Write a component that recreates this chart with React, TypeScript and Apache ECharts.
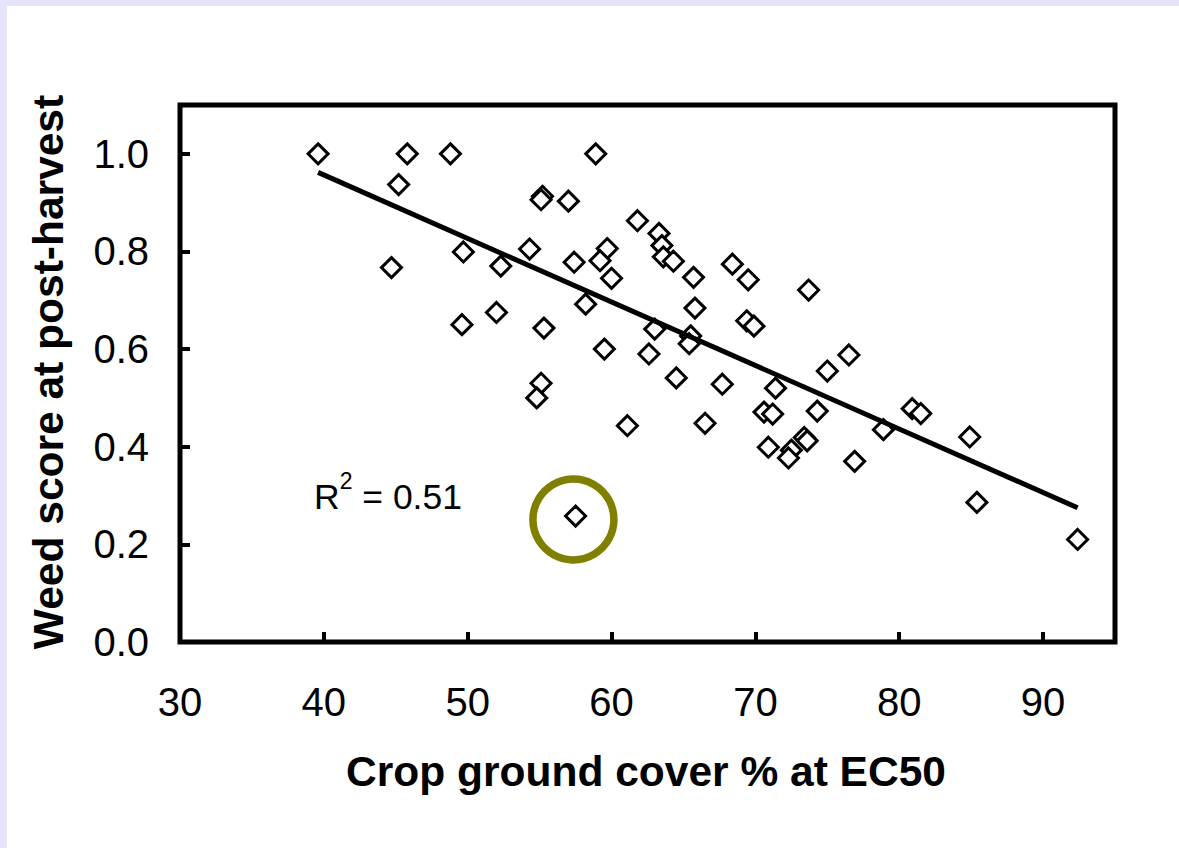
import React, { useEffect, useRef } from "react";
import * as echarts from "echarts";

// Crop ground cover % at EC50 (x) vs weed score at post-harvest (y)
const coverX: number[] = [
  39.6, 45.8, 48.8, 58.9, 45.2, 55.2, 55.1, 57.0, 61.8, 63.3,
  63.5, 63.6, 64.3, 65.7, 68.4, 69.5, 73.7, 44.7, 49.7, 52.3,
  54.3, 57.4, 59.7, 59.2, 60.0, 58.2, 52.0, 49.6, 55.3, 59.5,
  55.1, 54.8, 57.5, 65.8, 69.4, 69.9, 63.0, 65.5, 65.4, 62.6,
  64.5, 67.7, 71.4, 75.0, 76.5, 74.3, 70.6, 71.2, 61.1, 66.5,
  80.9, 81.5, 78.9, 84.9, 70.9, 73.4, 73.6, 72.5, 72.3, 76.9,
  85.4, 92.4,
];
const weedY: number[] = [
  1.0, 1.0, 1.0, 1.0, 0.937, 0.913, 0.906, 0.903, 0.863, 0.837,
  0.812, 0.789, 0.78, 0.747, 0.774, 0.742, 0.721, 0.767, 0.799, 0.77,
  0.805, 0.778, 0.806, 0.781, 0.745, 0.692, 0.675, 0.65, 0.643, 0.6,
  0.53, 0.5, 0.258, 0.684, 0.658, 0.647, 0.641, 0.627, 0.611, 0.59,
  0.541, 0.528, 0.52, 0.555, 0.588, 0.473, 0.471, 0.467, 0.443, 0.448,
  0.478, 0.468, 0.435, 0.42, 0.399, 0.419, 0.412, 0.393, 0.377, 0.37,
  0.286, 0.21,
];

// Linear trend line end points
const trendX: number[] = [39.6, 92.4];
const trendY: number[] = [0.962, 0.275];

// Highlighted (circled) point
const circledX: number[] = [57.35];
const circledY: number[] = [0.251];

const xTicks: number[] = [30, 40, 50, 60, 70, 80, 90];
const yTicks: number[] = [0, 0.2, 0.4, 0.6, 0.8, 1.0];

const xTitle = "Crop ground cover % at EC50";
const yTitle = "Weed score at post-harvest";
const rSquared = "0.51";

const FONT = "'Liberation Sans', Arial, Helvetica, sans-serif";

export default function App() {
  const ref = useRef<HTMLDivElement>(null);

  useEffect(() => {
    if (!ref.current) return;
    const chart = echarts.init(ref.current, undefined, { renderer: "svg" });

    const points = coverX.map((x, i) => [x, weedY[i]]);
    const trend = trendX.map((x, i) => [x, trendY[i]]);
    const circled = circledX.map((x, i) => [x, circledY[i]]);

    chart.setOption({
      animation: false,
      backgroundColor: "#E6E4FB",
      textStyle: { fontFamily: FONT },
      graphic: [
        {
          type: "rect",
          z: -10,
          silent: true,
          shape: { x: 7, y: 6, width: 1200, height: 900 },
          style: { fill: "#ffffff" },
        },
        {
          type: "text",
          x: 646,
          y: 771,
          style: {
            text: xTitle,
            fontFamily: FONT,
            fontSize: 42.5,
            fontWeight: "bold",
            fill: "#000",
            align: "center",
            verticalAlign: "middle",
          },
        },
        {
          type: "text",
          x: 48,
          y: 372,
          rotation: Math.PI / 2,
          style: {
            text: yTitle,
            fontFamily: FONT,
            fontSize: 42.5,
            fontWeight: "bold",
            fill: "#000",
            align: "center",
            verticalAlign: "middle",
          },
        },
        {
          type: "text",
          x: 314,
          y: 497,
          style: {
            text: "{a|R}{sup|2}{a| = " + rSquared + "}",
            fontFamily: FONT,
            fill: "#000",
            align: "left",
            verticalAlign: "middle",
            rich: {
              a: { fontSize: 35.5, lineHeight: 56, fontFamily: FONT, fill: "#000" },
              sup: {
                fontSize: 23,
                lineHeight: 23,
                verticalAlign: "top",
                fontFamily: FONT,
                fill: "#000",
              },
            },
          },
        },
      ],
      grid: {
        left: 180,
        top: 105,
        width: 935,
        height: 537,
        show: true,
        borderColor: "#000",
        borderWidth: 5,
        backgroundColor: "transparent",
      },
      xAxis: {
        type: "value",
        min: 30,
        max: 95,
        interval: 10,
        axisLine: { show: false },
        splitLine: { show: false },
        axisTick: {
          show: true,
          inside: true,
          length: 10,
          customValues: xTicks,
          lineStyle: { color: "#000", width: 4 },
        },
        axisLabel: {
          customValues: xTicks,
          fontSize: 40,
          fontFamily: FONT,
          color: "#000",
          margin: 40,
        },
      },
      yAxis: {
        type: "value",
        min: 0,
        max: 1.1,
        interval: 0.2,
        axisLine: { show: false },
        splitLine: { show: false },
        axisTick: {
          show: true,
          inside: true,
          length: 10,
          customValues: yTicks,
          lineStyle: { color: "#000", width: 4 },
        },
        axisLabel: {
          customValues: yTicks,
          fontSize: 40,
          fontFamily: FONT,
          color: "#000",
          margin: 31,
          formatter: (v: number) => v.toFixed(1),
        },
      },
      series: [
        {
          type: "scatter",
          data: points,
          symbol: "diamond",
          symbolSize: [20, 20],
          itemStyle: { color: "#ffffff", borderColor: "#000", borderWidth: 3, opacity: 1 },
          z: 3,
        },
        {
          type: "scatter",
          data: circled,
          symbol: "circle",
          symbolSize: 81,
          silent: true,
          itemStyle: {
            color: "rgba(0,0,0,0)",
            borderColor: "#808000",
            borderWidth: 7.5,
            opacity: 1,
          },
          z: 2,
        },
        {
          type: "line",
          data: trend,
          symbol: "none",
          lineStyle: { color: "#000", width: 5 },
          z: 4,
        },
      ],
    });

    return () => chart.dispose();
  }, []);

  return (
    <div
      ref={ref}
      style={{ position: "fixed", left: 0, top: 0, width: 1179, height: 848 }}
    />
  );
}
